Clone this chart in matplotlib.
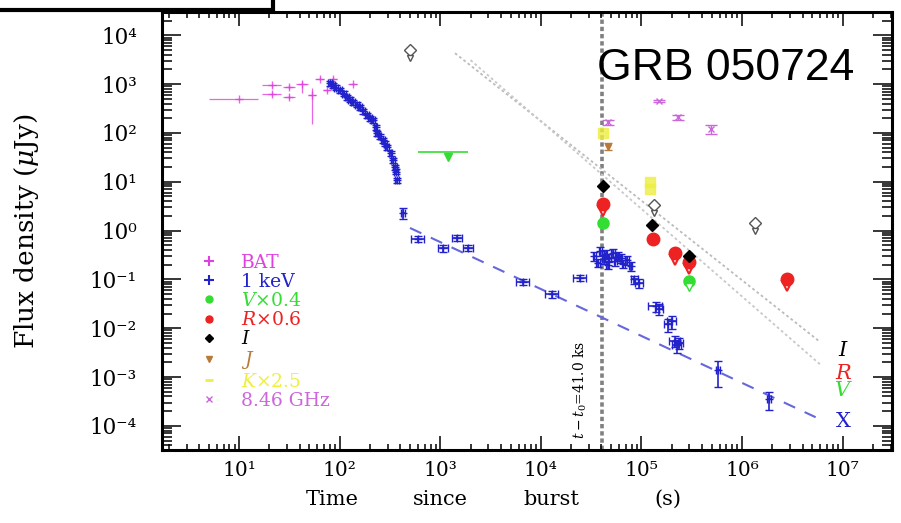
import numpy as np
import matplotlib.pyplot as plt
from matplotlib.lines import Line2D
from matplotlib.patches import Rectangle

plt.rcParams['font.family'] = 'DejaVu Serif'
plt.rcParams['mathtext.fontset'] = 'dejavuserif'

# ---- data (time in s, flux density in uJy) ----
# BAT
bat_t = [10, 21, 21, 31, 31, 42, 53, 63, 75, 85, 135]
bat_f = [500, 950, 620, 870, 540, 1000, 600, 1300, 750, 1300, 1000]
bat_tlo = [5, 17, 17, 27, 27, 37, 48, 57, 68, 77, 120]
bat_thi = [15.5, 26, 26, 36, 36, 48, 58, 69, 82, 93, 150]
bat_flo = [480, 880, 570, 780, 490, 650, 150, 1200, 700, 1200, 950]
bat_fhi = [520, 1020, 680, 960, 600, 1150, 850, 1420, 800, 1400, 1050]

# XRT 1 keV
xray_t = [80, 86, 92, 101, 110, 118, 126, 135, 148, 160, 172, 186, 200, 215, 228,
          235, 250, 270, 285, 295, 320, 340, 355, 362, 370, 427,
          600, 1070, 1480, 1900, 6600, 13000, 24700,
          34000, 37000, 39000, 42000, 44000, 46000, 48000, 52000, 55000, 58000,
          62000, 66000, 72000, 78000,
          85000, 95000, 138000, 150000, 182000, 200000, 215000, 225000, 235000,
          575000, 1.87e6]
xray_f = [1050, 950, 850, 750, 640, 535, 480, 425, 380, 335, 280, 230, 200, 182, 130,
          100, 85, 71, 60, 51, 38, 28, 20, 16, 10.8, 2.3,
          0.68, 0.43, 0.71, 0.44, 0.089, 0.050, 0.107,
          0.30, 0.22, 0.38, 0.26, 0.33, 0.20, 0.28, 0.35, 0.24, 0.30,
          0.27, 0.21, 0.25, 0.19,
          0.10, 0.085, 0.028, 0.025, 0.012, 0.014, 0.0055, 0.0045, 0.005,
          0.0014, 3.5e-4]
xray_dt = [0.04] * 26 + [0.15, 0.12, 0.12, 0.12, 0.15, 0.15, 0.15] + [0.04] * 14 + \
          [0.08, 0.1, 0.15, 0.1, 0.08, 0.1, 0.12, 0.1, 0.1, 0.05, 0.05]
xray_df = [0.12] * 25 + [0.25] + [0.15] * 7 + [0.2] * 14 + \
          [0.2, 0.2, 0.25, 0.25, 0.3, 0.3, 0.25, 0.3, 0.25, 0.55, 0.4]

# V x0.4
v_t = [41700, 296000]
v_f = [1.43, 0.093]
v_lim_t = [1200]
v_lim_f = [40]
v_lim_tlo = [600]
v_lim_thi = [1900]

# R x0.6
r_t = [41700, 129000, 214000, 296000, 2.8e6]
r_f = [3.5, 0.68, 0.35, 0.23, 0.10]
r_lim = [True, False, True, True, True]

# I
i_t = [41700, 128000, 300000]
i_f = [8.1, 1.3, 0.30]
i_lim_t = [500, 132000, 1.35e6]
i_lim_f = [4900, 3.3, 1.43]

# J
j_t = [47000]
j_f = [52]

# K x2.5
k_t = [41700, 123000, 123000]
k_f = [100, 10, 7.2]

# 8.46 GHz
radio_t = [47000, 148000, 230000, 490000]
radio_f = [167, 445, 210, 120]
radio_ferr = [20, 20, 25, 25]

# model lines
xfit_t = [500, 5.4e6]
xfit_f = [1.13, 1.5e-4]
ifit_t = [1400, 6.0e6]
ifit_f = [4300, 5.2e-3]
rfit_t = [2000, 6.0e6]
rfit_f = [3100, 1.8e-3]

t_break = 41000

c_bat = '#e040e0'
c_x = '#2222cc'
c_v = '#33dd33'
c_r = '#ee2222'
c_i = 'black'
c_j = '#b87a3a'
c_k = '#eeee44'
c_radio = '#cc66dd'

fig = plt.figure(figsize=(9.01, 5.23), dpi=100)
ax = fig.add_axes([162 / 901, 1 - 450 / 523, 730 / 901, 438 / 523])
ax.set_xscale('log')
ax.set_yscale('log')
ax.set_xlim(1.71, 3.1e7)
ax.set_ylim(3.2e-5, 3.0e4)

# t - t0 line
ax.axvline(t_break, color='#808080', lw=2.6, ls=(0, (1.2, 0.8)), zorder=1)
ax.text(24500, 5.5e-4, r'$t-t_0$=41.0 ks', rotation=90, ha='center', va='center',
        fontsize=10)

# fitted lines
ax.plot(xfit_t, xfit_f, color='#6666dd', lw=1.5, ls=(0, (6, 5)), zorder=1)
ax.plot(ifit_t, ifit_f, color='#bbbbbb', lw=1.3, ls=(0, (1.5, 1.5)), zorder=1)
ax.plot(rfit_t, rfit_f, color='#c8c8c8', lw=1.3, ls=(0, (1.5, 1.5)), zorder=1)

# BAT
bt = np.array(bat_t, float)
bf = np.array(bat_f, float)
ax.errorbar(bt, bf, xerr=[bt - bat_tlo, np.array(bat_thi) - bt],
            yerr=[bf - bat_flo, np.array(bat_fhi) - bf],
            fmt='+', color=c_bat, ms=6, lw=0.9, alpha=0.8, zorder=3)

# X-ray
xt = np.array(xray_t, float)
xf = np.array(xray_f, float)
ax.errorbar(xt, xf, xerr=xt * np.array(xray_dt), yerr=xf * np.array(xray_df),
            fmt='+', color=c_x, ms=6, lw=1.2, capsize=3, zorder=4)

# V
ax.errorbar(v_lim_t, v_lim_f, xerr=[[v_lim_t[0] - v_lim_tlo[0]], [v_lim_thi[0] - v_lim_t[0]]],
            fmt='none', ecolor=c_v, lw=1.2, zorder=3)
ax.plot(v_lim_t, np.array(v_lim_f) * 0.8, 'v', color=c_v, ms=6, zorder=3)
ax.plot(v_t, v_f, 'o', color=c_v, ms=8, zorder=5)
ax.plot(v_t[1:], np.array(v_f[1:]) * 0.75, 'v', mfc='white', mec=c_v, ms=6, zorder=5)

# R
rt = np.array(r_t)
rf = np.array(r_f)
lim = np.array(r_lim)
ax.plot(rt[lim], rf[lim] * 0.72, 'v', mfc='white', mec=c_r, mew=1.5, ms=7, zorder=5)
ax.plot(rt, rf, 'o', color=c_r, ms=9, zorder=6)

# I
ax.plot(i_lim_t, i_lim_f, 'D', mfc='white', mec='#555555', ms=6, mew=1, zorder=5)
ax.plot(i_lim_t, np.array(i_lim_f) * 0.7, 'v', mfc='white', mec='#555555', ms=5, zorder=5)
ax.plot(i_t, i_f, 'D', color=c_i, ms=6, zorder=7)

# J
ax.errorbar(j_t, j_f, yerr=[[8], [10]], fmt='v', color=c_j, ms=5, lw=1, capsize=3, zorder=5)

# K
ax.plot(k_t, k_f, 's', color=c_k, ms=7, alpha=0.8, zorder=5)

# radio
ax.errorbar(radio_t, radio_f, yerr=radio_ferr, fmt='x', color=c_radio, ms=5, lw=1,
            capsize=4, zorder=5)

# band labels at right end of the lines
ax.text(1.02e7, 3.5e-3, r'$I$', color='black', fontsize=15, ha='center', va='center')
ax.text(1.02e7, 1.2e-3, r'$R$', color=c_r, fontsize=15, ha='center', va='center')
ax.text(1.02e7, 5.3e-4, r'$V$', color=c_v, fontsize=15, ha='center', va='center')
ax.text(1.02e7, 1.2e-4, 'X', color=c_x, fontsize=15, ha='center', va='center')

# legend
handles = [
    Line2D([], [], ls='none', marker='+', color=c_bat, ms=7, mew=1.5),
    Line2D([], [], ls='none', marker='+', color=c_x, ms=7, mew=1.5),
    Line2D([], [], ls='none', marker='o', color=c_v, ms=5),
    Line2D([], [], ls='none', marker='o', color=c_r, ms=5),
    Line2D([], [], ls='none', marker='D', color=c_i, ms=4),
    Line2D([], [], ls='none', marker='v', color=c_j, ms=4),
    Line2D([], [], ls='none', marker='_', color=c_k, ms=6, mew=2),
    Line2D([], [], ls='none', marker='x', color=c_radio, ms=4),
]
labels = ['BAT', '1 keV', r'$V$×0.4', r'$R$×0.6', r'$I$', r'$J$', r'$K$×2.5', '8.46 GHz']
ax.legend(handles, labels, loc='upper left', bbox_to_anchor=(0.052, 0.448),
          frameon=False, fontsize=13.5, handlelength=1.0, handletextpad=1.2,
          labelspacing=0.06, borderaxespad=0, borderpad=0,
          labelcolor=[c_bat, c_x, c_v, c_r, c_i, c_j, c_k, c_radio])

# axes styling
for s in ax.spines.values():
    s.set_linewidth(2.2)
ax.tick_params(which='both', direction='in', top=True, right=True, width=1.1)
ax.tick_params(axis='x', which='major', length=10, pad=8)
ax.tick_params(axis='x', which='minor', length=4)
ax.tick_params(axis='y', which='major', length=14, pad=18)
ax.tick_params(axis='y', which='minor', length=7)

sup = str.maketrans('-0123456789', '⁻⁰¹²³⁴⁵⁶⁷⁸⁹')
xt_ticks = [10.0 ** k for k in range(1, 8)]
ax.set_xticks(xt_ticks)
ax.set_xticklabels(['10' + str(k).translate(sup) for k in range(1, 8)], fontsize=14.5)
yt_ticks = [10.0 ** k for k in range(-4, 5)]
ax.set_yticks(yt_ticks)
ax.set_yticklabels(['10' + str(k).translate(sup) for k in range(-4, 5)], fontsize=15.5)

ax.set_ylabel(r'Flux density ($\mu$Jy)', fontsize=19)
ax.yaxis.set_label_coords(-0.166, 0.5)
# x label spread out like the original
for word, xpix in zip(['Time', 'since', 'burst', '(s)'], [332, 440, 551, 668]):
    fig.text(xpix / 901, 1 - 505 / 523, word, fontsize=15, ha='center', va='baseline')

fig.text(597 / 901, 1 - 68 / 523, 'GRB 050724', family='Liberation Sans', fontsize=32,
         ha='left', va='center')

fig.patches.append(Rectangle((-0.01, 1 - 10 / 523), 273 / 901 + 0.01, 0.05,
                             transform=fig.transFigure, fill=False, ec='black', lw=3))

fig.savefig('out.png', dpi=100)
